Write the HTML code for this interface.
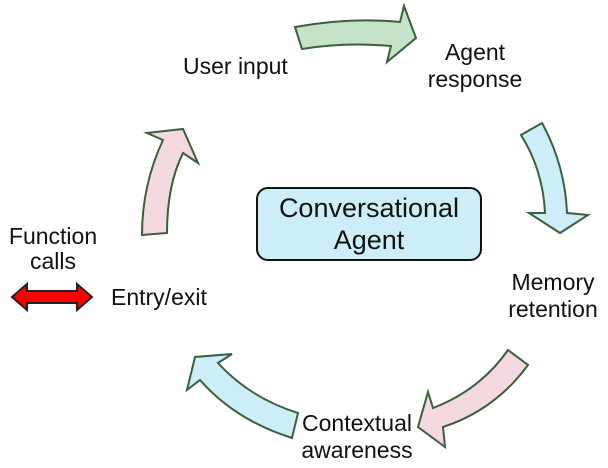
<!DOCTYPE html>
<html><head><style>
body{margin:0;width:608px;height:468px;background:#fff;overflow:hidden}
svg{display:block}
text{font-family:"Liberation Sans",sans-serif;fill:#111;font-size:23px}
</style></head><body>
<svg width="608" height="468" viewBox="0 0 608 468">
<g stroke="#3a5f3a" stroke-width="2" stroke-linejoin="miter">
<path d="M295,27 Q350,17 400,22 L404,6 L416,38 L387,62 L391,46 Q345,42 302,49 Z" fill="#c4e3c8"/>
<path d="M521,135 L542,123 Q565,165 567,213 L588,215 L560,233 L529,213 L545,213 Q543,170 521,135 Z" fill="#cdeef8"/>
<path d="M142,235 L167,233 Q167,185 183,153 L198,163 L183,129 L147,133 L163,140 Q142,185 142,235 Z" fill="#f5d9e1"/>
<path d="M508,350 L528,365 Q495,410 443,427 L445,447 L418,427 L428,392 L433,408 Q480,390 508,350 Z" fill="#f5d9e1"/>
<path d="M298,413 L292,438 Q235,420 200,380 L187,390 L195,357 L232,354 L218,363 Q250,398 298,413 Z" fill="#cdeef8"/>
</g>
<path d="M12,297 L27,284 L27,291 L77,291 L77,284 L92,297 L77,310 L77,303 L27,303 L27,310 Z" fill="#ff0000" stroke="#222" stroke-width="2"/>
<rect x="257" y="188" width="224" height="72" rx="11" fill="#cdeef8" stroke="#111" stroke-width="2"/>
<text x="369" y="217" text-anchor="middle" style="font-size:27px">Conversational</text>
<text x="369" y="249" text-anchor="middle" style="font-size:27px">Agent</text>
<text x="183" y="74">User input</text>
<text x="475" y="60" text-anchor="middle">Agent</text>
<text x="475" y="87" text-anchor="middle">response</text>
<text x="553" y="290" text-anchor="middle">Memory</text>
<text x="553" y="317" text-anchor="middle">retention</text>
<text x="357" y="431" text-anchor="middle">Contextual</text>
<text x="357" y="458" text-anchor="middle">awareness</text>
<text x="53" y="244" text-anchor="middle">Function</text>
<text x="53" y="269" text-anchor="middle">calls</text>
<text x="111" y="305">Entry/exit</text>
</svg>
</body></html>
